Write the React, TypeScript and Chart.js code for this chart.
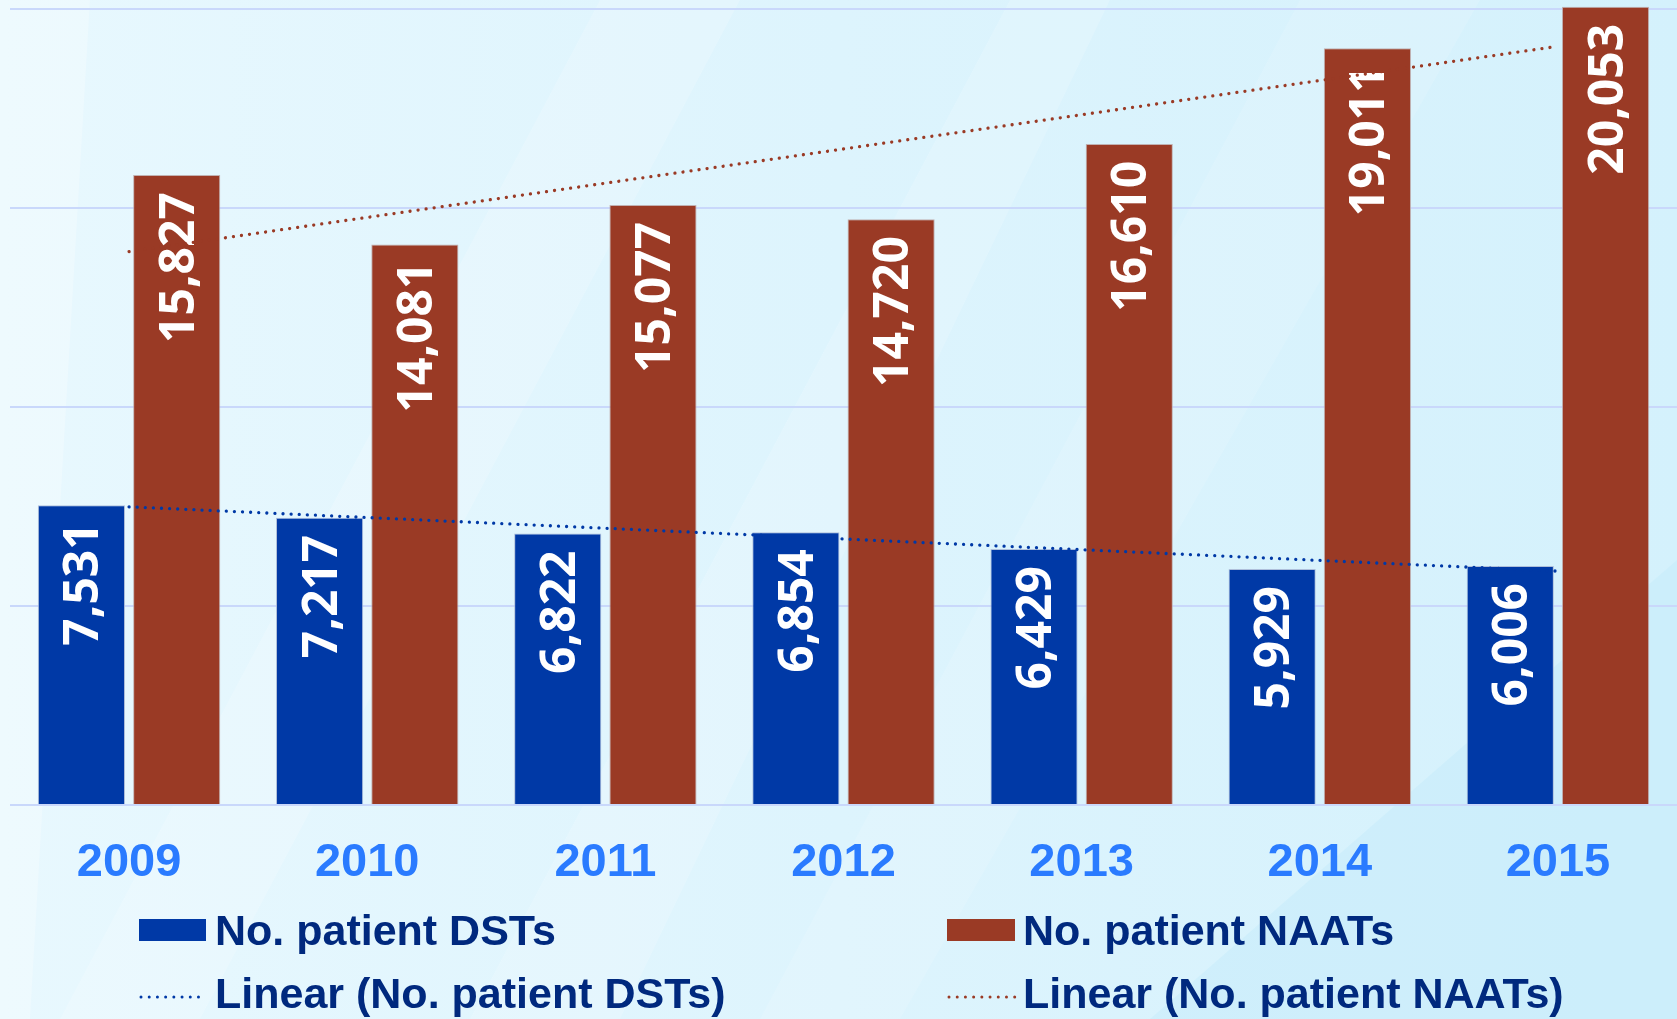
import React, { useEffect, useRef } from 'react';
import { Chart, registerables } from 'chart.js';

Chart.register(...registerables);

// ---- Data ----
const years = ['2009', '2010', '2011', '2012', '2013', '2014', '2015'];
const dstValues = [7531, 7217, 6822, 6854, 6429, 5929, 6006];
const naatValues = [15827, 14081, 15077, 14720, 16610, 19011, 20053];
const yTickValues = [0, 5000, 10000, 15000, 20000];
const seriesNames = ['No. patient DSTs', 'No. patient NAATs'];
const trendNames = ['Linear (No. patient DSTs)', 'Linear (No. patient NAATs)'];

// ---- Styles ----
const DST_COLOR = '#0039A6';
const NAAT_COLOR = '#9A3A25';
const YEAR_COLOR = '#2A7BFF';
const LEGEND_TEXT = '#00297E';
const GRID_COLOR = '#C9D8FB';

// least-squares linear trend of a series (Excel "Linear" trendline)
function linearTrend(values: number[]): number[] {
  const n = values.length;
  const mx = (n - 1) / 2;
  const my = values.reduce((a, b) => a + b, 0) / n;
  let num = 0;
  let den = 0;
  values.forEach((v, i) => {
    num += (i - mx) * (v - my);
    den += (i - mx) * (i - mx);
  });
  const slope = num / den;
  return values.map((_, i) => my + slope * (i - mx));
}

const backgroundPlugin = {
  id: 'bg',
  beforeDraw(chart: any) {
    const { ctx, width, height } = chart;
    ctx.save();
    const g = ctx.createLinearGradient(0, 0, width, 0);
    g.addColorStop(0, '#E8F8FE');
    g.addColorStop(0.5, '#DDF4FD');
    g.addColorStop(1, '#D4F1FC');
    ctx.fillStyle = g;
    ctx.fillRect(0, 0, width, height);
    const poly = (pts: number[][], color: string) => {
      ctx.beginPath();
      ctx.moveTo(pts[0][0], pts[0][1]);
      for (let i = 1; i < pts.length; i++) ctx.lineTo(pts[i][0], pts[i][1]);
      ctx.closePath();
      ctx.fillStyle = color;
      ctx.fill();
    };
    poly([[0, 0], [90, 0], [30, 1019], [0, 1019]], 'rgba(255,255,255,0.25)');
    poly([[600, 0], [740, 0], [200, 1019], [60, 1019]], 'rgba(255,255,255,0.18)');
    poly([[1010, 0], [1110, 0], [620, 1019], [470, 1019]], 'rgba(255,255,255,0.16)');
    poly([[1300, 0], [1480, 0], [900, 1019], [760, 1019]], 'rgba(255,255,255,0.12)');
    poly([[1150, 1019], [1677, 560], [1677, 1019]], 'rgba(190,232,250,0.35)');
    ctx.restore();
  },
};

function drawBarLabels(chart: any) {
  const ctx = chart.ctx;
  chart.data.datasets.forEach((ds: any, di: number) => {
    const meta = chart.getDatasetMeta(di);
    if (meta.type !== 'bar') return;
    meta.data.forEach((bar: any, i: number) => {
      const v = ds.data[i] as number;
      ctx.save();
      ctx.translate(bar.x, bar.y + 17);
      ctx.rotate(-Math.PI / 2);
      ctx.font = 'bold 48px "Open Sans", "Noto Sans", sans-serif';
      ctx.fillStyle = '#FFFFFF';
      ctx.textAlign = 'right';
      ctx.textBaseline = 'alphabetic';
      ctx.fillText(v.toLocaleString('en-US'), 0, 17);
      ctx.restore();
    });
  });
}

const barLabelPlugin = {
  id: 'barLabels',
  beforeDraw(chart: any) {
    chart.$labelsDone = false;
  },
  beforeDatasetDraw(chart: any, args: any) {
    if (args.meta.type === 'line' && !chart.$labelsDone) {
      drawBarLabels(chart);
      chart.$labelsDone = true;
    }
  },
  afterDatasetsDraw(chart: any) {
    if (!chart.$labelsDone) {
      drawBarLabels(chart);
      chart.$labelsDone = true;
    }
  },
};

const legendPlugin = {
  id: 'customLegend',
  afterDraw(chart: any) {
    const ctx = chart.ctx;
    const items = [
      { text: seriesNames[0], kind: 'box', color: DST_COLOR, x0: 139, x1: 206, tx: 215, base: 945 },
      { text: trendNames[0], kind: 'dots', color: DST_COLOR, x0: 139, x1: 206, tx: 215, base: 1008 },
      { text: seriesNames[1], kind: 'box', color: NAAT_COLOR, x0: 947, x1: 1015, tx: 1023, base: 945 },
      { text: trendNames[1], kind: 'dots', color: NAAT_COLOR, x0: 947, x1: 1015, tx: 1023, base: 1008 },
    ];
    items.forEach((it) => {
      ctx.save();
      if (it.kind === 'box') {
        ctx.fillStyle = it.color;
        ctx.fillRect(it.x0, it.base - 26, it.x1 - it.x0, 22);
      } else {
        ctx.strokeStyle = it.color;
        ctx.lineWidth = 3;
        ctx.lineCap = 'round';
        ctx.setLineDash([0.01, 8.2]);
        ctx.beginPath();
        ctx.moveTo(it.x0 + 2, it.base - 11);
        ctx.lineTo(it.x1, it.base - 11);
        ctx.stroke();
      }
      ctx.restore();
      ctx.save();
      ctx.font = 'bold 43px "Liberation Sans", Arial, sans-serif';
      ctx.fillStyle = LEGEND_TEXT;
      ctx.textAlign = 'left';
      ctx.textBaseline = 'alphabetic';
      ctx.fillText(it.text, it.tx, it.base);
      ctx.restore();
    });
  },
};

export default function App() {
  const canvasRef = useRef<HTMLCanvasElement | null>(null);

  useEffect(() => {
    if (!canvasRef.current) return;
    const dstTrend = linearTrend(dstValues);
    const naatTrend = linearTrend(naatValues);
    const dotted = {
      type: 'line' as const,
      borderWidth: 3.3,
      borderDash: [0.01, 8.1],
      borderCapStyle: 'round' as const,
      pointRadius: 0,
      fill: false,
      tension: 0,
      order: 1,
    };
    const chart = new Chart(canvasRef.current, {
      type: 'bar',
      data: {
        labels: years,
        datasets: [
          {
            type: 'bar',
            label: seriesNames[0],
            data: dstValues,
            backgroundColor: DST_COLOR,
            borderColor: 'rgba(170,185,215,0.9)',
            borderWidth: 1,
            categoryPercentage: 0.8,
            barPercentage: 0.915,
            order: 2,
          },
          {
            type: 'bar',
            label: seriesNames[1],
            data: naatValues,
            backgroundColor: NAAT_COLOR,
            borderColor: 'rgba(190,170,170,0.9)',
            borderWidth: 1,
            categoryPercentage: 0.8,
            barPercentage: 0.915,
            order: 2,
          },
          { ...dotted, label: trendNames[0], data: dstTrend, borderColor: DST_COLOR },
          { ...dotted, label: trendNames[1], data: naatTrend, borderColor: NAAT_COLOR },
        ] as any,
      },
      options: {
        responsive: false,
        animation: false,
        devicePixelRatio: 1,
        layout: { padding: { top: 5, left: 10, right: 0, bottom: 0 } },
        plugins: {
          legend: { display: false },
          tooltip: { enabled: false },
        },
        scales: {
          x: {
            grid: { display: false },
            border: { display: false },
            ticks: {
              color: YEAR_COLOR,
              font: { family: '"Liberation Sans", Arial, sans-serif', size: 47, weight: 'bold' },
              padding: 22,
              maxRotation: 0,
              autoSkip: false,
            },
            afterFit(scale: any) {
              scale.height = 214;
            },
          },
          y: {
            min: 0,
            max: 20100,
            afterBuildTicks(scale: any) {
              scale.ticks = yTickValues.map((v) => ({ value: v }));
            },
            ticks: { display: false },
            grid: {
              color: GRID_COLOR,
              lineWidth: 2,
              drawTicks: false,
            },
            border: { display: false },
            afterFit(scale: any) {
              scale.width = 0;
            },
          },
        },
      } as any,
      plugins: [backgroundPlugin, barLabelPlugin, legendPlugin],
    });
    return () => chart.destroy();
  }, []);

  return (
    <div style={{ position: 'absolute', left: 0, top: 0, width: 1677, height: 1019 }}>
      <canvas ref={canvasRef} width={1677} height={1019} style={{ width: 1677, height: 1019, display: 'block' }} />
    </div>
  );
}
